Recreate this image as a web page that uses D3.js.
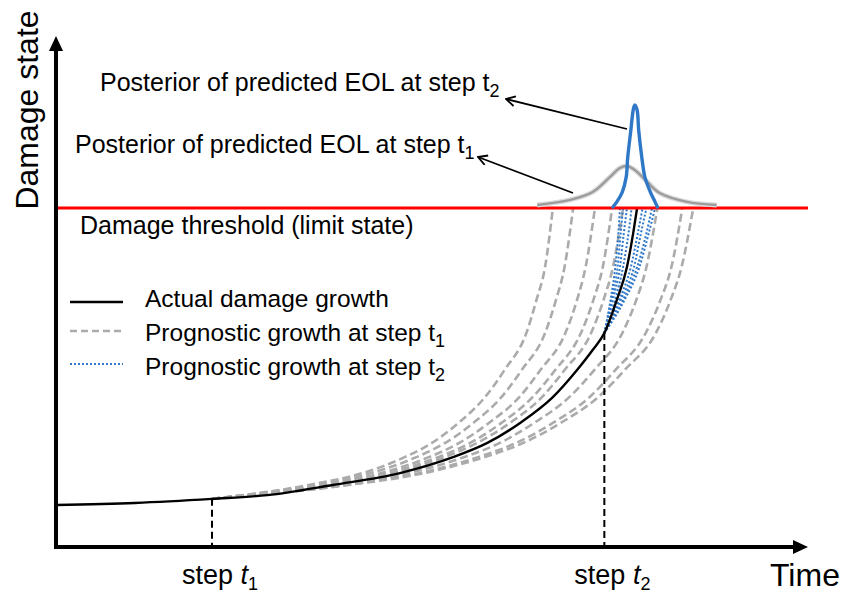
<!DOCTYPE html>
<html>
<head>
<meta charset="utf-8">
<script src="https://cdn.jsdelivr.net/npm/d3@7"></script>
<style>
  body { margin: 0; background: #fff; }
  svg { display: block; }
  text { font-family: "Liberation Sans", Arial, Helvetica, sans-serif; fill: #000; }
</style>
</head>
<body>
<svg id="chart" width="844" height="598"></svg>
<script>
// ---- Data -------------------------------------------------------------
// Actual damage path (time, damage state); damage 1.0 is the limit state
const actualTime   = [0, 10.1, 20, 27.1, 35.5, 44.1, 50.9, 55.3, 59.5, 63.7, 66.8, 68.8, 70.3, 71.9, 73.2, 74.0, 74.5];
const actualDamage = [0.124, 0.130, 0.142, 0.153, 0.183, 0.218, 0.265, 0.307, 0.366, 0.442, 0.522, 0.581, 0.631, 0.729, 0.826, 0.926, 1.0];

const threshold = 1.0;
const stepTimes = [20, 70.3];
const stepSubs  = ["1", "2"];

// Prognostic paths launched at step t1: shared damage levels, one row of times per path
const progLevels1 = [0.142, 0.183, 0.218, 0.265, 0.307, 0.366, 0.442, 0.522, 0.631, 0.729, 0.826, 1.0];
const progTimes1 = [
  [20, 32.4, 39.3, 44.7, 48.2, 51.6, 55.0, 57.5, 60.3, 61.6, 62.7, 63.7],
  [20, 33.1, 40.4, 46.2, 49.9, 53.5, 57.1, 59.7, 62.7, 64.1, 65.2, 66.3],
  [20, 33.9, 41.7, 47.8, 51.7, 55.5, 59.4, 62.1, 65.3, 66.8, 67.9, 69.1],
  [20, 34.5, 42.6, 49.0, 53.1, 57.1, 61.1, 64.0, 67.3, 68.9, 70.1, 71.3],
  [20, 34.9, 43.2, 49.8, 54.0, 58.2, 62.3, 65.2, 68.6, 70.2, 71.4, 72.7],
  [20, 36.2, 45.2, 52.3, 56.9, 61.3, 65.8, 69.0, 72.6, 74.4, 75.7, 77.1],
  [20, 37.1, 46.6, 54.1, 59.0, 63.7, 68.4, 71.7, 75.6, 77.5, 78.9, 80.3],
  [20, 37.5, 47.2, 54.9, 59.9, 64.7, 69.5, 72.9, 76.9, 78.8, 80.2, 81.7]
];

// Prognostic paths launched at step t2
const progLevels2 = [0.631, 0.729, 0.826, 0.926, 1.0];
const progTimes2 = [
  [70.3, 71.1, 71.7, 72.1, 72.3],
  [70.3, 71.2, 72.0, 72.4, 72.7],
  [70.3, 71.4, 72.3, 72.8, 73.2],
  [70.3, 71.7, 72.7, 73.4, 73.8],
  [70.3, 72.2, 73.7, 74.6, 75.2],
  [70.3, 72.4, 74.1, 75.0, 75.7],
  [70.3, 72.7, 74.5, 75.7, 76.4],
  [70.3, 72.9, 74.8, 76.0, 76.8]
];

// Posterior densities of the predicted EOL, drawn as height above the limit state
const eolTime1    = [61.7, 65.9, 68.8, 71.0, 72.3, 73.2, 74.2, 75.8, 77.4, 80.9, 84.7];
const eolDensity1 = [0.009, 0.024, 0.047, 0.091, 0.118, 0.124, 0.112, 0.077, 0.044, 0.018, 0.009];
const eolTime2    = [71.4, 71.9, 72.6, 73.1, 73.3, 73.7, 74.0, 74.2, 74.5, 74.7, 75.1, 75.5, 76.2, 76.8, 77.1];
const eolDensity2 = [0.003, 0.018, 0.047, 0.091, 0.150, 0.230, 0.289, 0.304, 0.289, 0.230, 0.150, 0.091, 0.047, 0.018, 0.003];

// Text
const yTitle = "Damage state";
const xTitle = "Time";
const thresholdLabel = "Damage threshold (limit state)";
const posteriorLabel = "Posterior of predicted EOL at step t";
const legendLabels = ["Actual damage growth", "Prognostic growth at step t", "Prognostic growth at step t"];
const legendSubs = ["", "1", "2"];

// ---- Layout -----------------------------------------------------------
const svg = d3.select("#chart");
const x = d3.scaleLinear().domain([0, 100]).range([56, 836]);
const y = d3.scaleLinear().domain([0, 1]).range([547, 208]);
const axisEndX = 808, axisTopY = 36;

const defs = svg.append("defs");
defs.append("filter").attr("id", "glow").attr("x", "-5%").attr("y", "-300%").attr("width", "110%").attr("height", "700%")
  .append("feGaussianBlur").attr("stdDeviation", 1.6);
defs.append("filter").attr("id", "soft").attr("x", "-10%").attr("y", "-30%").attr("width", "120%").attr("height", "160%")
  .append("feGaussianBlur").attr("stdDeviation", 0.6);
defs.append("marker").attr("id", "openHead").attr("viewBox", "-11 -6 12 12")
  .attr("refX", 0).attr("refY", 0).attr("markerWidth", 12).attr("markerHeight", 12)
  .attr("markerUnits", "userSpaceOnUse").attr("orient", "auto")
  .append("path").attr("d", "M-9,-5 L0,0 L-9,5").attr("fill", "none").attr("stroke", "#000").attr("stroke-width", 1.8);

const pathLine = d3.line().x(d => x(d[0])).y(d => y(d[1])).curve(d3.curveMonotoneX);
const pdfLine = d3.line().x(d => x(d[0])).y(d => y(threshold + d[1])).curve(d3.curveCatmullRom.alpha(0.5));

// Prognostic paths from step t1 (gray dashed)
svg.append("g").selectAll("path").data(progTimes1).join("path")
  .attr("d", row => pathLine(row.map((t, i) => [t, progLevels1[i]])))
  .attr("fill", "none").attr("stroke", "#ababab").attr("stroke-width", 2.6)
  .attr("stroke-dasharray", "8,4");

// Prognostic paths from step t2 (blue dotted)
svg.append("g").selectAll("path").data(progTimes2).join("path")
  .attr("d", row => pathLine(row.map((t, i) => [t, progLevels2[i]])))
  .attr("fill", "none").attr("stroke", "#2f78c8").attr("stroke-width", 2)
  .attr("stroke-dasharray", "2,2");

// Actual damage path
svg.append("path")
  .attr("d", pathLine(actualTime.map((t, i) => [t, actualDamage[i]])))
  .attr("fill", "none").attr("stroke", "#000").attr("stroke-width", 2.4);

// Step markers
const interp = d3.scaleLinear().domain(actualTime).range(actualDamage);
svg.append("g").selectAll("line").data(stepTimes).join("line")
  .attr("x1", d => x(d)).attr("x2", d => x(d))
  .attr("y1", d => y(interp(d))).attr("y2", y(0) - 2)
  .attr("stroke", "#000").attr("stroke-width", 2).attr("stroke-dasharray", "7,4");

// Damage threshold with a soft red glow
const thr = svg.append("g");
thr.append("line").attr("x1", x(0)).attr("x2", axisEndX).attr("y1", y(threshold)).attr("y2", y(threshold))
  .attr("stroke", "#ff7070").attr("stroke-width", 8).attr("opacity", 0.85).attr("filter", "url(#glow)");
thr.append("line").attr("x1", x(0)).attr("x2", axisEndX).attr("y1", y(threshold)).attr("y2", y(threshold))
  .attr("stroke", "#ff0000").attr("stroke-width", 3);

// Posterior of EOL at step t1 (soft gray)
const pdf1 = eolTime1.map((t, i) => [t, eolDensity1[i]]);
svg.append("path").attr("d", pdfLine(pdf1)).attr("fill", "none")
  .attr("stroke", "#dcdcdc").attr("stroke-width", 5).attr("filter", "url(#soft)");
svg.append("path").attr("d", pdfLine(pdf1)).attr("fill", "none")
  .attr("stroke", "#9c9c9c").attr("stroke-width", 2.4).attr("filter", "url(#soft)");

// Posterior of EOL at step t2 (blue)
svg.append("path").attr("d", pdfLine(eolTime2.map((t, i) => [t, eolDensity2[i]])))
  .attr("fill", "none").attr("stroke", "#2f78c8").attr("stroke-width", 3.4)
  .attr("stroke-linejoin", "round").attr("stroke-linecap", "round");

// Axes with filled arrowheads
const axes = svg.append("g");
axes.append("line").attr("x1", x(0)).attr("x2", x(0)).attr("y1", y(0) + 2).attr("y2", axisTopY + 12)
  .attr("stroke", "#000").attr("stroke-width", 4);
axes.append("line").attr("x1", x(0) - 2).attr("x2", axisEndX - 12).attr("y1", y(0)).attr("y2", y(0))
  .attr("stroke", "#000").attr("stroke-width", 4);
axes.append("path").attr("d", `M${x(0)},${axisTopY} L${x(0) - 7},${axisTopY + 15} L${x(0) + 7},${axisTopY + 15} Z`).attr("fill", "#000");
axes.append("path").attr("d", `M${axisEndX},${y(0)} L${axisEndX - 15},${y(0) - 7} L${axisEndX - 15},${y(0) + 7} Z`).attr("fill", "#000");

// Axis titles
svg.append("text").attr("transform", `translate(38,110) rotate(-90)`).attr("text-anchor", "middle")
  .style("font-size", "32px").text(yTitle);
svg.append("text").attr("x", 770).attr("y", 586).style("font-size", "32px").text(xTitle);

// Step labels under the time axis
const stepText = svg.append("g").selectAll("text").data(stepTimes).join("text")
  .attr("x", d => x(d) - 30).attr("y", 584).style("font-size", "27px");
stepText.append("tspan").text("step ");
stepText.append("tspan").style("font-style", "italic").text("t");
stepText.append("tspan").attr("dy", 6).style("font-size", "18px").text((d, i) => stepSubs[i]);

// Threshold label
svg.append("text").attr("x", 80).attr("y", 234).style("font-size", "25px").text(thresholdLabel);

// Posterior annotations with arrows
const notes = [
  { sub: "2", tx: 100, ty: 91, from: [627, 129], to: [506, 99] },
  { sub: "1", tx: 75, ty: 153, from: [573, 193], to: [478, 157] }
];
notes.forEach(n => {
  const t = svg.append("text").attr("x", n.tx).attr("y", n.ty).style("font-size", "25px");
  t.append("tspan").text(posteriorLabel);
  t.append("tspan").attr("dy", 6).style("font-size", "18px").text(n.sub);
  svg.append("line").attr("x1", n.from[0]).attr("y1", n.from[1]).attr("x2", n.to[0]).attr("y2", n.to[1])
    .attr("stroke", "#000").attr("stroke-width", 1.8).attr("marker-end", "url(#openHead)");
});

// Legend
const legend = svg.append("g");
const legendStyles = [
  { stroke: "#000", width: 2.4, dash: null, ly: 302 },
  { stroke: "#ababab", width: 2.4, dash: "7,4", ly: 331 },
  { stroke: "#2f78c8", width: 2.2, dash: "2,2", ly: 364 }
];
const legendBaselines = [307, 341, 375];
legendStyles.forEach((s, i) => {
  legend.append("line").attr("x1", 70).attr("x2", 123).attr("y1", s.ly).attr("y2", s.ly)
    .attr("stroke", s.stroke).attr("stroke-width", s.width).attr("stroke-dasharray", s.dash);
  const t = legend.append("text").attr("x", 145).attr("y", legendBaselines[i]).style("font-size", "24.5px");
  t.append("tspan").text(legendLabels[i]);
  if (legendSubs[i]) t.append("tspan").attr("dy", 6).style("font-size", "18px").text(legendSubs[i]);
});
</script>
</body>
</html>
